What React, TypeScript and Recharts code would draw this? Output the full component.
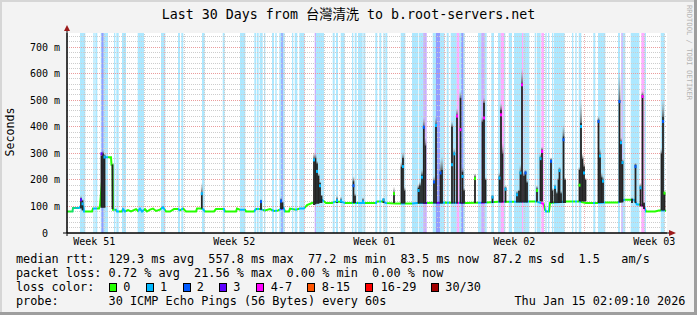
import React from 'react';
import { ComposedChart, XAxis, YAxis, Line, Scatter, ReferenceArea, ReferenceLine } from 'recharts';

const mono = "'DejaVu Sans Mono', 'Noto Sans CJK TC', monospace";

// x in days, y in ms
const T0 = 0.135;
const T1 = 30.135;
const YMAX = 753;

const weekTicks = [1.5, 8.5, 15.5, 22.5, 29.5];
const weekLabels = ['Week 51', 'Week 52', 'Week 01', 'Week 02', 'Week 03'];
const yTicks = [0, 100, 200, 300, 400, 500, 600, 700];
const minorY = [20, 40, 60, 80, 120, 140, 160, 180, 220, 240, 260, 280, 320, 340, 360, 380, 420, 440, 460, 480, 520, 540, 560, 580, 620, 640, 660, 680, 720, 740];
const dayLines = [1, 2, 3, 4, 6, 7, 8, 9, 10, 11, 13, 14, 15, 16, 17, 18, 20, 21, 22, 23, 24, 25, 27, 28, 29, 30];
const weekLines = [5, 12, 19, 26];

const lossColors = ['#26ff00', '#00b8ff', '#0059ff', '#5e00ff', '#ff00ff', '#ff5500', '#ff0000', '#a10000'];
const lossLabels = ['0', '1', '2', '3', '4-7', '8-15', '16-29', '30/30'];

// loss background: [start, end, level]
const lossBands = [
  [0.785, 1.05, 1], [1.45, 1.52, 1], [1.55, 1.65, 1], [1.82, 2.185, 1], [1.86, 1.96, 3],
  [2.485, 2.55, 1], [2.6, 2.72, 1], [2.885, 3.085, 1], [3.67, 3.985, 1], [4.835, 5.05, 1],
  [5.685, 5.785, 1], [5.85, 5.95, 1], [6.885, 7.02, 1],
  [7.92, 8.02, 1], [8.785, 9.05, 1], [9.5, 9.585, 1], [9.62, 9.72, 1], [9.77, 9.92, 1],
  [9.985, 10.05, 1], [10.385, 10.485, 1], [10.55, 10.62, 1], [10.75, 11.02, 1], [10.85, 10.92, 3],
  [11.385, 11.45, 1], [11.52, 11.65, 1], [11.75, 12.02, 1], [12.52, 12.585, 3], [12.585, 12.985, 1],
  [13.42, 13.52, 1], [13.585, 13.685, 1], [13.82, 14.02, 1], [14.385, 14.45, 1], [14.52, 14.62, 1],
  [14.685, 14.92, 1], [14.95, 15.05, 1],
  [15.55, 15.65, 1], [15.75, 15.85, 1], [15.95, 16.02, 1], [16.05, 16.15, 1], [16.82, 17.05, 1],
  [17.385, 17.685, 1], [17.72, 17.95, 1], [17.95, 18.12, 3], [18.42, 19.02, 1], [18.585, 18.785, 3],
  [19.12, 19.22, 1], [19.32, 19.62, 1], [19.62, 19.75, 4], [19.75, 20.02, 1], [19.85, 19.95, 3],
  [20.685, 20.85, 1], [20.85, 21.02, 3], [21.02, 21.12, 1], [21.35, 21.485, 1], [21.685, 21.82, 1],
  [21.82, 21.985, 4], [21.985, 22.05, 1], [22.22, 22.385, 1], [22.485, 22.885, 1],
  [22.885, 22.95, 4], [22.95, 23.25, 1], [23.52, 23.585, 1], [23.62, 23.82, 1], [23.85, 23.985, 4],
  [24.05, 24.12, 1], [24.185, 24.25, 1], [24.385, 24.45, 1], [24.485, 25.02, 1], [25.385, 25.45, 1],
  [25.55, 25.62, 1], [25.72, 25.85, 1], [26.45, 26.55, 1], [26.685, 27.05, 1], [27.685, 27.785, 1],
  [27.85, 27.92, 3], [27.92, 28.05, 1], [28.32, 28.75, 1], [28.85, 29.02, 4], [29.02, 29.085, 1],
  [29.82, 30.02, 1],
];

// median rtt line: [t, ms]
const medianPts = [
  [0.135, 81], [0.41, 81], [0.435, 94], [0.735, 94], [0.8, 100], [0.95, 100], [0.985, 81],
  [1.385, 81], [1.435, 92], [1.735, 92], [1.785, 103], [1.985, 285], [2.335, 285], [2.36, 257],
  [2.41, 257], [2.435, 88], [2.585, 88], [2.635, 81], [2.885, 81], [2.935, 90], [3.035, 81],
  [3.185, 86], [3.335, 81], [3.585, 90], [3.685, 83], [3.785, 92], [3.885, 81], [4.035, 90],
  [4.135, 81], [4.285, 88], [4.435, 92], [4.585, 83], [4.785, 88], [4.935, 97], [5.085, 81],
  [5.285, 81], [5.485, 90], [5.685, 90], [5.785, 85], [5.935, 92], [6.085, 81], [6.585, 81],
  [6.635, 92], [6.785, 92], [6.935, 90], [7.035, 81], [7.485, 81], [7.585, 90], [7.985, 90],
  [8.035, 81], [8.585, 81], [8.635, 92], [8.785, 88], [9.035, 88], [9.085, 81], [9.485, 81],
  [9.585, 90], [9.735, 90], [9.885, 88], [10.035, 85], [10.285, 90], [10.485, 83], [10.685, 85],
  [10.96, 95], [11.035, 81], [11.235, 81], [11.285, 92], [11.585, 88], [11.785, 92], [11.985, 92],
  [12.135, 105], [12.385, 113], [12.885, 125], [13.085, 113], [13.385, 113], [13.535, 118],
  [13.835, 118], [14.035, 113], [15.185, 113], [15.585, 113], [15.635, 119], [15.885, 119],
  [16.085, 113], [16.585, 111], [17.385, 111], [17.635, 113], [18.085, 113], [18.935, 115],
  [20.085, 113], [21.135, 115], [21.685, 118], [22.485, 118], [23.21, 119], [23.585, 119],
  [23.96, 110], [24.035, 88], [24.085, 81], [24.235, 81], [24.285, 113], [25.085, 119],
  [25.685, 119], [26.085, 113], [26.635, 113], [27.01, 115], [27.685, 115], [28.01, 125],
  [28.485, 125], [28.635, 107], [28.785, 107], [28.985, 100], [29.085, 81], [29.535, 81],
  [29.735, 85], [30.01, 85], [30.085, 83],
];

// smoke columns: [t, low, high, haloTop]
const smoke = [
  [0.835, 92, 130, 140], [0.91, 85, 122, 128], [1.86, 95, 290, 305], [1.935, 95, 300, 312],
  [2.01, 95, 292, 300], [2.41, 90, 257, 262], [6.875, 92, 150, 190],
  [9.835, 88, 120, 128], [10.835, 90, 125, 135], [10.91, 90, 115, 120], [12.485, 105, 280, 305],
  [12.56, 108, 282, 300], [12.635, 110, 262, 272], [12.71, 110, 215, 225], [12.785, 113, 188, 195],
  [12.86, 113, 140, 145], [13.635, 113, 128, 140], [13.835, 113, 125, 138], [14.46, 113, 195, 215],
  [14.535, 113, 140, 150], [14.935, 113, 125, 135],
  [15.96, 113, 128, 132], [16.485, 113, 150, 175], [16.86, 111, 250, 270], [16.935, 111, 282, 305],
  [17.01, 111, 160, 175], [17.71, 111, 170, 185], [17.785, 111, 180, 195], [17.885, 111, 220, 240],
  [17.975, 111, 401, 435], [18.05, 111, 330, 360], [18.485, 111, 195, 215], [18.585, 111, 408, 440],
  [18.81, 111, 230, 280], [18.885, 111, 238, 290], [19.385, 111, 401, 420], [19.5, 111, 301, 320],
  [19.635, 111, 445, 470], [19.81, 111, 508, 535], [19.91, 111, 230, 250], [19.985, 111, 160, 170],
  [20.535, 113, 213, 225], [20.91, 113, 420, 440], [20.985, 113, 489, 510], [21.06, 113, 200, 210],
  [21.41, 113, 138, 145], [21.76, 115, 213, 230], [21.835, 115, 464, 490], [21.91, 115, 300, 340],
  [22.06, 115, 170, 180],
  [22.635, 115, 150, 160], [22.735, 115, 158, 165], [22.81, 115, 230, 260], [22.885, 115, 565, 620],
  [22.985, 115, 215, 230], [23.06, 115, 230, 240], [23.135, 115, 190, 200], [23.635, 119, 168, 180],
  [23.81, 119, 285, 300], [23.885, 119, 313, 325], [24.335, 113, 276, 285], [24.41, 113, 160, 170],
  [24.535, 113, 175, 185], [24.635, 113, 150, 160], [24.71, 113, 200, 210], [24.76, 113, 240, 250],
  [24.835, 113, 150, 160], [24.96, 113, 364, 410], [25.035, 113, 200, 210], [25.76, 119, 238, 250],
  [25.835, 119, 414, 505], [25.91, 119, 280, 300], [25.985, 119, 250, 265], [26.06, 119, 200, 210],
  [26.71, 113, 426, 440], [26.785, 113, 295, 320], [26.86, 113, 210, 230], [26.935, 113, 200, 215],
  [27.76, 115, 502, 610], [27.835, 115, 345, 360], [27.91, 115, 270, 280], [28.385, 113, 128, 135],
  [28.56, 113, 257, 265], [28.81, 100, 175, 190], [28.91, 100, 520, 535], [28.985, 90, 113, 118],
  [29.86, 85, 300, 320], [29.935, 85, 439, 505], [30.01, 85, 150, 160],
];

// coloured median tips on the spikes: [t, ms, loss level]
const tips = [
  [0.835, 125, 3], [0.91, 110, 1], [1.86, 298, 3], [2.01, 286, 1], [6.875, 148, 1],
  [9.835, 118, 2], [10.835, 120, 2], [12.485, 275, 1], [12.635, 232, 1], [12.785, 178, 1],
  [13.635, 122, 1], [13.835, 120, 1], [14.46, 178, 2], [14.935, 118, 1],
  [15.96, 125, 1], [16.485, 148, 0], [16.935, 250, 1], [17.71, 160, 1], [17.885, 210, 1],
  [17.975, 398, 2], [18.485, 192, 2], [18.585, 405, 1], [18.81, 226, 2], [19.385, 257, 1],
  [19.5, 298, 1], [19.635, 440, 4], [19.81, 389, 4], [19.91, 213, 1], [20.535, 205, 0],
  [20.985, 433, 4], [21.41, 135, 1], [21.76, 207, 1], [21.835, 445, 4], [22.06, 165, 1],
  [22.635, 144, 1], [22.81, 226, 1], [22.885, 558, 4], [23.06, 226, 2], [23.635, 160, 0],
  [23.81, 280, 1], [23.885, 307, 4], [24.335, 270, 2], [24.535, 172, 1], [24.76, 235, 1],
  [24.96, 351, 2], [25.76, 180, 0], [25.835, 401, 1], [25.985, 226, 1], [26.71, 420, 2],
  [26.785, 290, 1], [26.935, 195, 1], [27.76, 495, 2], [27.835, 340, 1], [27.91, 265, 1],
  [28.56, 250, 2], [28.81, 170, 1], [28.91, 514, 4], [29.935, 420, 2], [30.01, 150, 0],
];

const legendRtt = 'median rtt:  129.3 ms avg  557.8 ms max  77.2 ms min  83.5 ms now  87.2 ms sd  1.5   am/s';
const legendLoss = 'packet loss: 0.72 % avg  21.56 % max  0.00 % min  0.00 % now';
const legendProbe = 'probe:'.padEnd(13) + '30 ICMP Echo Pings (56 Bytes) every 60s'.padEnd(57) + 'Thu Jan 15 02:09:10 2026';

const medianData = medianPts.map(([t, v]) => ({ t, v }));
const tipData = tips.map(([t, v, lvl]) => ({ t, v, lvl }));

// median line colour follows the loss level of the band it runs through
const lineStart = medianPts[0][0];
const lineSpan = medianPts[medianPts.length - 1][0] - lineStart;
const pct = (t: number) => `${(((t - lineStart) / lineSpan) * 100).toFixed(3)}%`;
const edges = Array.from(new Set(lossBands.flatMap(([a, b]) => [a, b]))).sort((p, q) => p - q);
const lineStops: [number, string][] = [[lineStart, lossColors[0]]];
for (let i = 0; i < edges.length - 1; i++) {
  const mid = (edges[i] + edges[i + 1]) / 2;
  const lvl = lossBands.reduce((m, [a, b, l]) => (mid > a && mid < b ? Math.max(m, l) : m), 0);
  lineStops.push([edges[i], lossColors[lvl]], [edges[i + 1], lossColors[lvl]]);
}
lineStops.push([edges[edges.length - 1], lossColors[0]], [lineStart + lineSpan, lossColors[0]]);

const HW = 0.045; // half width of a smoke column, in days

const fmtY = (v: number) => (v === 0 ? '0\u00a0\u00a0' : `${v} m`);
const fmtX = (v: number) => weekLabels[weekTicks.indexOf(v)] ?? '';

const TipShape = (props: any) => {
  const { cx, cy, payload } = props;
  if (cx == null || cy == null) return null;
  return <rect x={cx - 1} y={cy - 1.5} width={2} height={3} fill={lossColors[payload.lvl]} />;
};

const Txt = ({ x, y, children }: { x: number; y: number; children: React.ReactNode }) => (
  <div style={{ position: 'absolute', left: x, top: y, fontFamily: mono, fontSize: 11.83, lineHeight: '14px', whiteSpace: 'pre', color: '#000' }}>
    {children}
  </div>
);

const squareX = [108.7, 145.7, 182.7, 219.3, 256, 307.3, 365, 430.7];
const squareLabelX = [123.3, 160, 196.7, 233.3, 270.7, 321.7, 380.7, 445.3];

export default function App() {
  return (
    <div style={{ position: 'absolute', left: 0, top: 0, width: 697, height: 315, background: '#f3f3f3', overflow: 'hidden' }}>
      <div style={{ position: 'absolute', left: 0, top: 0, width: 697, height: 2, background: '#d6d6d6' }} />
      <div style={{ position: 'absolute', left: 0, top: 0, width: 2, height: 315, background: '#d6d6d6' }} />
      <div style={{ position: 'absolute', right: 0, top: 0, width: 3, height: 315, background: '#9e9e9e' }} />
      <div style={{ position: 'absolute', left: 0, bottom: 0, width: 697, height: 3, background: '#9e9e9e' }} />

      <div style={{ position: 'absolute', left: 0, top: 7, width: 697, textAlign: 'center', fontFamily: mono, fontSize: 13.3, lineHeight: '16px', whiteSpace: 'pre' }}>
        Last 30 Days from 台灣清洗 to b.root-servers.net
      </div>

      <div style={{ position: 'absolute', left: -40, top: 125, width: 100, textAlign: 'center', fontFamily: mono, fontSize: 11.6, lineHeight: '14px', transform: 'rotate(-90deg)' }}>
        Seconds
      </div>

      <div style={{ position: 'absolute', left: 693, top: 5, fontFamily: mono, fontSize: 7.2, lineHeight: '8px', whiteSpace: 'pre', color: '#b4b4b4', transform: 'rotate(90deg)', transformOrigin: '0 0' }}>
        RRDTOOL / TOBI OETIKER
      </div>

      <div style={{ position: 'absolute', left: 0, top: 0 }}>
        <ComposedChart width={697} height={315} data={medianData} margin={{ top: 33, right: 30, bottom: 62, left: 7 }}>
          <defs>
            <linearGradient id="halo" x1="0" y1="0" x2="0" y2="1">
              <stop offset="0" stopColor="#9a9a9a" stopOpacity={0} />
              <stop offset="1" stopColor="#555555" stopOpacity={0.9} />
            </linearGradient>
            <linearGradient id="medGrad" x1="0" y1="0" x2="1" y2="0">
              {lineStops.map(([t, c], i) => (
                <stop key={i} offset={pct(t)} stopColor={c} />
              ))}
            </linearGradient>
          </defs>
          <XAxis
            type="number"
            dataKey="t"
            domain={[T0, T1]}
            allowDataOverflow
            ticks={weekTicks}
            interval={0}
            tickFormatter={fmtX}
            height={20}
            tickSize={3}
            tickMargin={2}
            tickLine={false}
            axisLine={{ stroke: '#000' }}
            tick={{ fontFamily: mono, fontSize: 10, fill: '#000' }}
          />
          <YAxis
            type="number"
            domain={[0, YMAX]}
            allowDataOverflow
            ticks={yTicks}
            interval={0}
            tickFormatter={fmtY}
            width={60}
            tickSize={5}
            tickMargin={2}
            tickLine={false}
            axisLine={{ stroke: '#000' }}
            tick={{ fontFamily: mono, fontSize: 10, fill: '#000' }}
          />
          <ReferenceArea x1={T0} x2={T1} y1={0} y2={YMAX} fill="#ffffff" fillOpacity={1} stroke="none" zIndex={-300} />
          {lossBands.map(([a, b, lvl], i) => (
            <ReferenceArea key={'b' + i} x1={a} x2={b} y1={0} y2={YMAX} fill={lossColors[lvl]} fillOpacity={0.32} stroke="none" zIndex={-250} />
          ))}
          {minorY.map((v) => (
            <ReferenceLine key={'my' + v} y={v} stroke="#cdcdcd" strokeDasharray="1 1" shapeRendering="crispEdges" zIndex={-200} />
          ))}
          {dayLines.map((v) => (
            <ReferenceLine key={'dx' + v} x={v} stroke="#cdcdcd" strokeDasharray="1 1" shapeRendering="crispEdges" zIndex={-200} />
          ))}
          {yTicks.slice(1).map((v) => (
            <ReferenceLine key={'My' + v} y={v} stroke="#eb9c9c" strokeDasharray="1 1" shapeRendering="crispEdges" zIndex={-190} />
          ))}
          {weekLines.map((v) => (
            <ReferenceLine key={'wx' + v} x={v} stroke="#eeb0b0" strokeDasharray="1 1" shapeRendering="crispEdges" zIndex={-190} />
          ))}
          <Line type="linear" dataKey="v" stroke="url(#medGrad)" strokeWidth={2} dot={false} activeDot={false} isAnimationActive={false} />
          {smoke.map(([t, lo, hi, halo], i) => (
            <ReferenceArea key={'h' + i} x1={t - HW} x2={t + HW} y1={hi} y2={halo} fill="url(#halo)" fillOpacity={1} stroke="none" zIndex={450} />
          ))}
          {smoke.map(([t, lo, hi], i) => (
            <ReferenceArea key={'s' + i} x1={t - HW} x2={t + HW} y1={lo} y2={hi} fill="#232323" fillOpacity={1} stroke="none" zIndex={460} />
          ))}
          <Scatter data={tipData} dataKey="v" shape={TipShape} isAnimationActive={false} zIndex={600} />
        </ComposedChart>
      </div>

      <svg width={697} height={315} style={{ position: 'absolute', left: 0, top: 0, pointerEvents: 'none' }}>
        <line x1={67} y1={31} x2={67} y2={236} stroke="#000" />
        <line x1={63} y1={233} x2={670} y2={233} stroke="#000" />
        <polygon points="64,31 70,31 67,25" fill="#9c1a1a" />
        <polygon points="669,230 669,236 676,233" fill="#9c1a1a" />
      </svg>

      <Txt x={16} y={252}>{legendRtt}</Txt>
      <Txt x={16} y={266}>{legendLoss}</Txt>
      <Txt x={16} y={280}>loss color:</Txt>
      {lossLabels.map((lab, i) => (
        <React.Fragment key={lab}>
          <div style={{ position: 'absolute', left: squareX[i], top: 282.5, width: 8, height: 9, boxSizing: 'border-box', border: '1px solid #000', background: lossColors[i] }} />
          <Txt x={squareLabelX[i]} y={280}>{lab}</Txt>
        </React.Fragment>
      ))}
      <Txt x={16} y={294}>{legendProbe}</Txt>
    </div>
  );
}
